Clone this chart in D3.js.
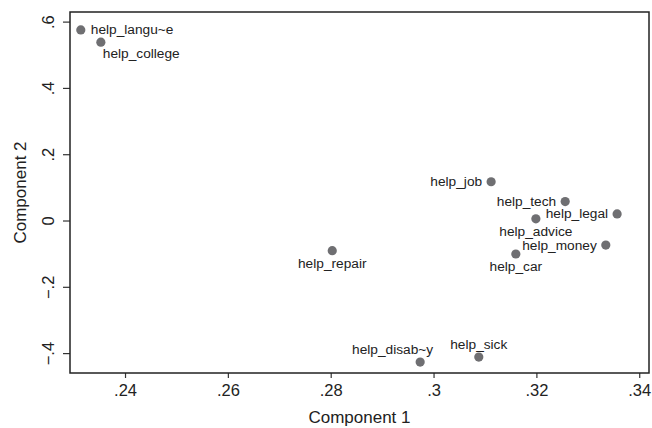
<!DOCTYPE html>
<html>
<head>
<meta charset="utf-8">
<script src="https://cdn.jsdelivr.net/npm/d3@7"></script>
<style>
  body { margin: 0; background: #fff; }
  text { font-family: "Liberation Sans", Arial, Helvetica, sans-serif; fill: #222; }
</style>
</head>
<body>
<div id="graph"></div>
<script>
// loadings
var names = ['help_langu~e', 'help_college', 'help_job', 'help_tech', 'help_legal',
    'help_advice', 'help_money', 'help_car', 'help_repair', 'help_disab~y', 'help_sick']
var comp1 = [0.2314, 0.2353, 0.3112, 0.3256, 0.3357, 0.3199, 0.3335, 0.3160, 0.2803, 0.2974, 0.3088]
var comp2 = [0.575, 0.538, 0.117, 0.057, 0.020, 0.005, -0.074, -0.101, -0.091, -0.427, -0.412]
// label clock position, like stata mlabvpos
var labelPos = [3, 4, 9, 9, 9, 6, 9, 6, 6, 11, 12]

var xTicks = [0.24, 0.26, 0.28, 0.30, 0.32, 0.34]
var yTicks = [-0.4, -0.2, 0, 0.2, 0.4, 0.6]

var width = 652, height = 428
var margin = {top: 12, right: 3, bottom: 55, left: 70}

var svg = d3.select('#graph')
    .append('svg')
    .attr('width', width)
    .attr('height', height)

var x = d3.scaleLinear()
    .domain([0.2293, 0.3419])
    .range([margin.left, width - margin.right])
var y = d3.scaleLinear()
    .domain([-0.46, 0.629])
    .range([height - margin.bottom, margin.top])

// stata style numbers: .24, -.2, 0
function fmt(v) {
    if (Math.abs(v) < 1e-9) return '0'
    var s = d3.format('.2~f')(Math.abs(v)).replace(/^0\./, '.')
    return (v < 0 ? '\u2212' : '') + s
}

// ------- axes --------

var xAxis = svg.append('g')
    .attr('transform', 'translate(0,' + (height - margin.bottom) + ')')
    .call(d3.axisBottom(x).tickValues(xTicks).tickFormat(fmt).tickSize(5).tickPadding(6).tickSizeOuter(0))
xAxis.select('.domain').remove()
xAxis.selectAll('line').attr('stroke', '#333').attr('stroke-width', 1.2)
xAxis.selectAll('text').style('font-size', '16.5px').attr('fill', '#222')

var yAxis = svg.append('g')
    .attr('transform', 'translate(' + margin.left + ',0)')
    .call(d3.axisLeft(y).tickValues(yTicks).tickFormat(fmt).tickSize(7).tickSizeOuter(0))
yAxis.select('.domain').remove()
yAxis.selectAll('line').attr('stroke', '#333').attr('stroke-width', 1.2)
yAxis.selectAll('text')
    .style('font-size', '16.5px')
    .attr('fill', '#222')
    .attr('x', null).attr('dy', null)
    .attr('text-anchor', 'middle')
    .attr('transform', 'translate(-16,0)rotate(-90)')

// frame
svg.append('rect')
    .attr('x', margin.left)
    .attr('y', margin.top)
    .attr('width', width - margin.left - margin.right)
    .attr('height', height - margin.top - margin.bottom)
    .attr('fill', 'none')
    .attr('stroke', '#222')
    .attr('stroke-width', 1.5)

// axis titles
svg.append('text')
    .attr('x', (margin.left + width - margin.right) / 2)
    .attr('y', 423)
    .attr('text-anchor', 'middle')
    .style('font-size', '17px')
    .text('Component 1')

svg.append('text')
    .attr('transform', 'translate(26,' + (margin.top + height - margin.bottom) / 2 + ')rotate(-90)')
    .attr('text-anchor', 'middle')
    .style('font-size', '17px')
    .text('Component 2')

// ------- points --------

var data = names.map(function(d, i) {
    return {name: d, c1: comp1[i], c2: comp2[i], pos: labelPos[i]}
})

// offsets for each clock position
var place = {
    3:  {anchor: 'start',  dx: 10,  dy: 0},
    4:  {anchor: 'start',  dx: 2,   dy: 11},
    6:  {anchor: 'middle', dx: 0,   dy: 13},
    9:  {anchor: 'end',    dx: -9,  dy: 0},
    11: {anchor: 'end',    dx: 13,  dy: -13},
    12: {anchor: 'middle', dx: 0,   dy: -13}
}

var pt = svg.append('g')
    .selectAll('g')
    .data(data)
    .enter()
    .append('g')

pt.append('circle')
    .attr('cx', function(d) { return x(d.c1) })
    .attr('cy', function(d) { return y(d.c2) })
    .attr('r', 4.6)
    .style('fill', '#6f6f72')

pt.append('text')
    .attr('x', function(d) { return x(d.c1) + place[d.pos].dx })
    .attr('y', function(d) { return y(d.c2) + place[d.pos].dy + 4.5 })
    .attr('text-anchor', function(d) { return place[d.pos].anchor })
    .style('font-size', '13.7px')
    .text(function(d) { return d.name })
</script>
</body>
</html>
